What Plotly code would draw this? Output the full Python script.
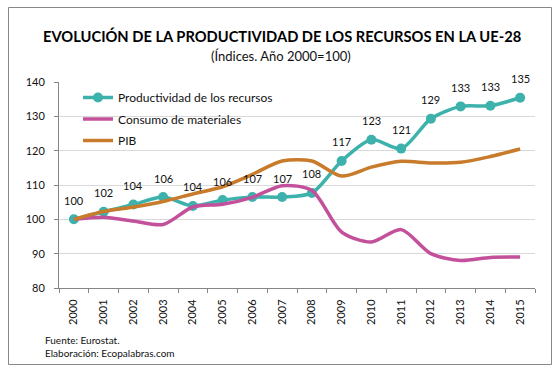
import plotly.graph_objects as go

years = [str(y) for y in range(2000, 2016)]
productividad = [100, 102.2, 104.3, 106.5, 103.9, 105.6, 106.5, 106.5, 107.7, 117.0, 123.2, 120.6, 129.3, 132.9, 133.1, 135.4]
productividad_labels = ["100", "102", "104", "106", "104", "106", "107", "107", "108", "117", "123", "121", "129", "133", "133", "135"]
consumo = [100, 100.6, 99.5, 98.5, 103.6, 104.4, 106.4, 109.8, 108.4, 96.3, 93.4, 97.0, 90.0, 88.0, 88.9, 89.0]
pib = [100, 102.3, 103.6, 105.2, 107.4, 109.5, 113.1, 117.0, 117.0, 112.6, 115.2, 116.9, 116.4, 116.6, 118.3, 120.5]

C_PROD = "#3DB1AC"
C_CONS = "#C3509B"
C_PIB = "#C87B2B"
FONT = "Lato"

W, H = 560, 370
ML, MR, MT, MB = 59, 25, 82, 82
PW = W - ML - MR
PH = H - MT - MB


def px2paper_x(px):
    return (px - ML) / PW


def px2paper_y(py):
    return (H - MB - py) / PH


idx = list(range(len(years)))

fig = go.Figure()
fig.add_trace(go.Scatter(
    x=idx, y=productividad, name="Productividad de los recursos",
    mode="lines+markers", line=dict(color=C_PROD, width=3.5, shape="spline", smoothing=0.8),
    marker=dict(size=10, color=C_PROD), legendgroup="a"))
fig.add_trace(go.Scatter(
    x=idx, y=consumo, name="Consumo de materiales",
    mode="lines", line=dict(color=C_CONS, width=3.5, shape="spline", smoothing=0.8),
    legendgroup="b"))
fig.add_trace(go.Scatter(
    x=idx, y=pib, name="PIB",
    mode="lines", line=dict(color=C_PIB, width=3.5, shape="spline", smoothing=0.8),
    legendgroup="c"))

annotations = []
for x, y, t in zip(idx, productividad, productividad_labels):
    annotations.append(dict(x=x, y=y, xref="x", yref="y", text=t, showarrow=False, yshift=19,
                            font=dict(family=FONT, size=11, color="#111")))

annotations.append(dict(xref="paper", yref="paper", x=px2paper_x(281.5), y=px2paper_y(35.5),
                        text="<b>EVOLUCIÓN DE LA PRODUCTIVIDAD DE LOS RECURSOS EN LA UE-28</b>",
                        showarrow=False, xanchor="center", yanchor="middle",
                        font=dict(family=FONT, size=14.7, color="#000")))
annotations.append(dict(xref="paper", yref="paper", x=px2paper_x(281), y=px2paper_y(56),
                        text="(Índices. Año 2000=100)",
                        showarrow=False, xanchor="center", yanchor="middle",
                        font=dict(family=FONT, size=13, color="#111")))
annotations.append(dict(xref="paper", yref="paper", x=px2paper_x(43), y=px2paper_y(340),
                        text="Fuente: Eurostat.", showarrow=False, xanchor="left", yanchor="middle",
                        font=dict(family=FONT, size=10, color="#111")))
annotations.append(dict(xref="paper", yref="paper", x=px2paper_x(43), y=px2paper_y(352.5),
                        text="Elaboración: Ecopalabras.com", showarrow=False, xanchor="left", yanchor="middle",
                        font=dict(family=FONT, size=10, color="#111")))

fig.update_layout(
    width=W, height=H,
    margin=dict(l=ML, r=MR, t=MT, b=MB, autoexpand=False),
    paper_bgcolor="white", plot_bgcolor="white",
    font=dict(family=FONT, size=11, color="#111"),
    showlegend=True,
    legend=dict(x=px2paper_x(78), y=px2paper_y(83), xanchor="left", yanchor="top",
                bgcolor="rgba(0,0,0,0)", font=dict(family=FONT, size=12, color="#111"),
                traceorder="grouped", tracegroupgap=2.5, itemwidth=30),
    annotations=annotations,
    shapes=[dict(type="rect", xref="paper", yref="paper",
                 x0=px2paper_x(8.5), x1=px2paper_x(551.5), y0=px2paper_y(364.5), y1=px2paper_y(7.5),
                 line=dict(color="#888888", width=1), fillcolor="rgba(0,0,0,0)", layer="below")],
    xaxis=dict(range=[-0.5, 15.5], tickmode="array", tickvals=idx, ticktext=years,
               showgrid=False, showline=True, linecolor="#868686", linewidth=1, zeroline=False,
               ticks="", tickangle=-90, tickfont=dict(family=FONT, size=11, color="#111"),
               ticklabelstandoff=6, automargin=False),
    xaxis2=dict(overlaying="x", range=[-0.5, 15.5], tickmode="array",
                tickvals=[i - 0.5 for i in range(len(years) + 1)], ticktext=[""] * (len(years) + 1),
                ticks="outside", ticklen=4, tickcolor="#868686", side="bottom",
                showgrid=False, showline=False, zeroline=False, anchor="y"),
    yaxis=dict(range=[80, 140], dtick=10, showgrid=True, gridcolor="#D9D9D9", gridwidth=1,
               showline=True, linecolor="#868686", linewidth=1, zeroline=False,
               ticks="outside", ticklen=4, tickcolor="#868686",
               tickfont=dict(family=FONT, size=11, color="#111"), ticklabelstandoff=7, automargin=False),
)
fig.add_trace(go.Scatter(x=[0], y=[None], xaxis="x2", showlegend=False, hoverinfo="skip"))

fig.write_html("out.html", config={"displayModeBar": False},
               post_script="document.body.style.margin='0';document.body.style.overflow='hidden';")
